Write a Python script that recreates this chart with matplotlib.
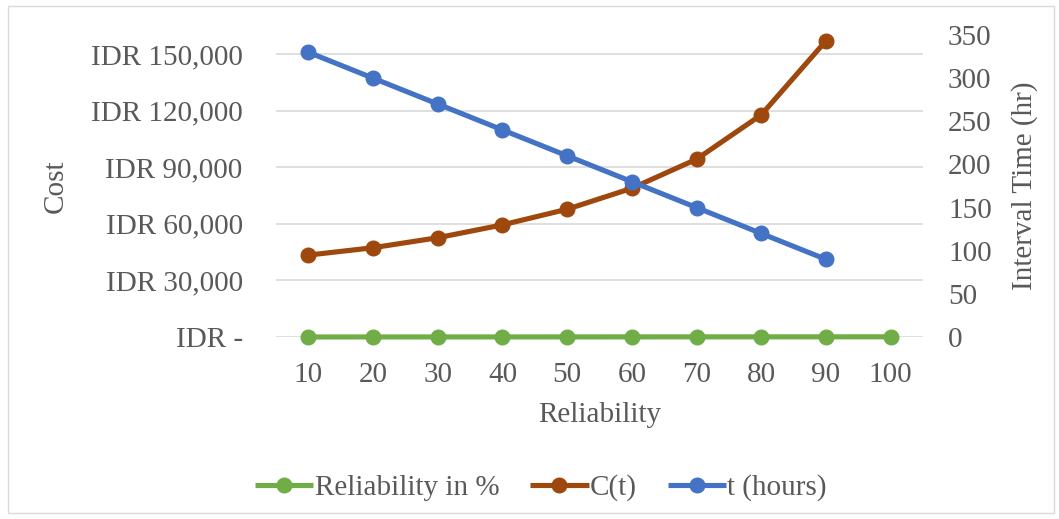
import matplotlib
matplotlib.use("Agg")
import matplotlib.pyplot as plt
from matplotlib.ticker import FuncFormatter, FixedLocator
from matplotlib.lines import Line2D
from matplotlib.patches import Rectangle

categories = [10, 20, 30, 40, 50, 60, 70, 80, 90, 100]
reliability_pct = [10, 20, 30, 40, 50, 60, 70, 80, 90, 100]
cost_ct = [43400, 47300, 52600, 59400, 67700, 78800, 94200, 117700, 156900]
t_hours = [330, 300, 270, 240, 210, 180, 150, 120, 90]

left_ticks = [0, 30000, 60000, 90000, 120000, 150000]
right_ticks = [0, 50, 100, 150, 200, 250, 300, 350]

GREEN = "#70AD47"
BROWN = "#9E480E"
BLUE = "#4472C4"
TXT = "#595959"
GRID = "#D9D9D9"
FS = 21

plt.rcParams["font.family"] = ["Liberation Serif", "DejaVu Serif"]

fig = plt.figure(figsize=(10.59, 5.19), dpi=100)
W, H = 1059, 519
L, R, T, B = 276, 923, 35, 337
ax = fig.add_axes([L / W, 1 - B / H, (R - L) / W, (B - T) / H])
ax2 = ax.twinx()

fig.patches.append(Rectangle((8 / W, 6 / H), (1054 - 8) / W, (513 - 6) / H,
                             transform=fig.transFigure, fill=False,
                             edgecolor=GRID, linewidth=1))

x = list(range(len(categories)))
lw = 3.7
ms = 10.5
ax.plot(x, reliability_pct, color=GREEN, lw=lw, marker="o", ms=ms,
        solid_capstyle="round", zorder=3, clip_on=False)
ax.plot(x[:len(cost_ct)], cost_ct, color=BROWN, lw=lw, marker="o", ms=ms,
        solid_capstyle="round", zorder=3, clip_on=False)
ax2.plot(x[:len(t_hours)], t_hours, color=BLUE, lw=lw, marker="o", ms=ms,
         solid_capstyle="round", zorder=3, clip_on=False)

ax.set_xlim(-0.5, len(categories) - 0.5)
ax.set_ylim(0, 160000)
ax2.set_ylim(0, 350)
ax.yaxis.set_major_locator(FixedLocator(left_ticks))
ax2.yaxis.set_major_locator(FixedLocator(right_ticks))
ax.set_xticks(x)
ax.set_xticklabels([str(c) for c in categories])


def idr(v, pos):
    if v == 0:
        return "IDR -"
    return "IDR {:,.0f}".format(v)


ax.yaxis.set_major_formatter(FuncFormatter(idr))
ax.grid(axis="y", color=GRID, lw=1.2, zorder=0)
ax.set_axisbelow(True)

for a in (ax, ax2):
    for s in a.spines.values():
        s.set_visible(False)
    a.tick_params(length=0, labelsize=FS, labelcolor=TXT)
ax.tick_params(axis="y", pad=24)
ax2.tick_params(axis="y", pad=18)
ax.tick_params(axis="x", pad=18)

ax.set_ylabel("Cost", fontsize=FS, color=TXT, labelpad=16)
ax2.set_ylabel("Interval Time (hr)", fontsize=FS, color=TXT, labelpad=14)
ax.set_xlabel("Reliability", fontsize=FS, color=TXT, labelpad=10)

handles = [
    Line2D([], [], color=GREEN, lw=lw, marker="o", ms=ms, solid_capstyle="butt"),
    Line2D([], [], color=BROWN, lw=lw, marker="o", ms=ms, solid_capstyle="butt"),
    Line2D([], [], color=BLUE, lw=lw, marker="o", ms=ms, solid_capstyle="butt"),
]
labels = ["Reliability in %", "C(t)", "t (hours)"]
leg = fig.legend(handles, labels, loc="center", bbox_to_anchor=(541 / W, 1 - 488 / H),
                 ncol=3, frameon=False, fontsize=FS, handlelength=2.0,
                 handletextpad=0.05, columnspacing=1.05, labelcolor=TXT,
                 borderpad=0, borderaxespad=0)

fig.savefig("out.png", dpi=100)
